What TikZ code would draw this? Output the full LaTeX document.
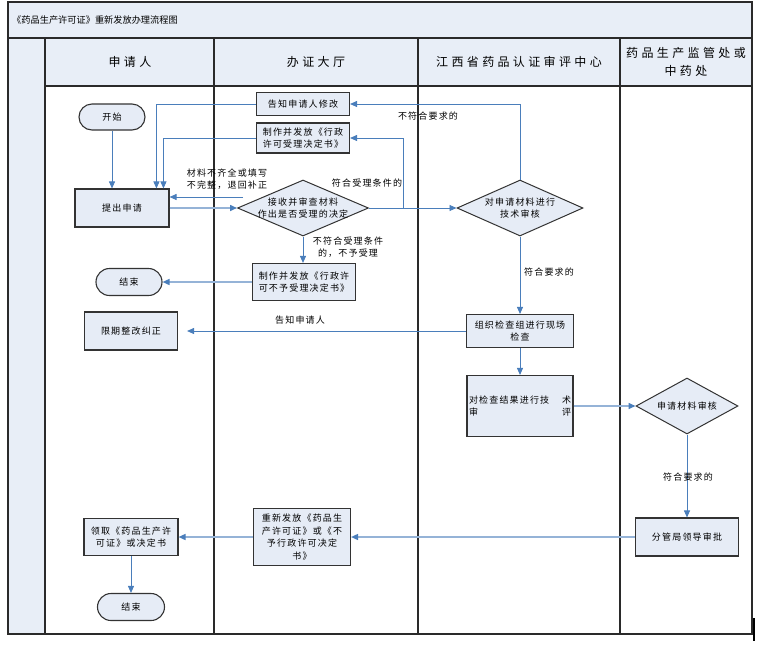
\documentclass[tikz,border=0pt]{standalone}
\usepackage{fontspec}
\setmainfont{Noto Sans CJK SC}
\newfontfamily\bxfont[LetterSpace=13]{Noto Sans CJK SC}
\newfontfamily\hdfont[LetterSpace=28]{Noto Sans CJK SC}
\newfontfamily\ttlfont{Noto Sans CJK SC}
\usetikzlibrary{arrows.meta,shapes.geometric,shapes.misc}
\definecolor{lanefill}{HTML}{E8EEF7}
\definecolor{boxfill}{HTML}{E6ECF6}
\definecolor{edgeD}{HTML}{4A7EBB}
\definecolor{edgeL}{HTML}{95B3D7}
\definecolor{framec}{HTML}{2A2A2A}
\begin{document}
\begin{tikzpicture}[x=1pt,y=-1pt,
  bx/.style={draw=black!80, line width=1.1pt, fill=boxfill, inner sep=1pt, align=center, font={\bxfont\fontsize{9}{12.5}\selectfont}},
  stad/.style={bx, rounded rectangle},
  dia/.style={draw=black!80, line width=1pt, fill=boxfill, diamond, inner sep=0pt},
  txt/.style={inner sep=0pt, align=center, font={\bxfont\fontsize{9}{12.5}\selectfont}},
  hdr/.style={inner sep=0pt, align=center, font={\hdfont\fontsize{12}{18}\selectfont}},
  dk/.style={draw=edgeD, line width=0.9pt, -{Triangle[length=7pt,width=6pt,fill=edgeD,color=edgeD]}},
  lt/.style={draw=edgeL, line width=1.5pt, -{Triangle[length=7pt,width=6pt,fill=edgeD,color=edgeD]}},
  lane/.style={draw=framec, line width=1.1pt}
]
\useasboundingbox (0,0) rectangle (766,662);
% frame
\fill[lanefill] (8,2) rectangle (752,38);
\fill[lanefill] (45,38) rectangle (752,86);
\fill[lanefill] (8,38) rectangle (45,634);
\draw[lane] (8,2) rectangle (752,634);
\draw[lane] (8,38) -- (752,38);
\draw[lane] (45,86) -- (752,86);
\foreach \xx in {45,214,418,620} \draw[lane] (\xx,38) -- (\xx,634);
\draw[black, line width=2pt] (754,618) -- (754,641);
% titles
\node[inner sep=0pt, anchor=west, font={\ttlfont\fontsize{9.2}{12}\selectfont}] (title) at (12,20) {《药品生产许可证》重新发放办理流程图};
\node[hdr] (h1) at (130,62) {申请人};
\node[hdr] (h2) at (316,62) {办证大厅};
\node[hdr] (h3) at (519,62) {江西省药品认证审评中心};
\node[hdr] (h4) at (686,62) {药品生产监管处或\\中药处};
% applicant lane
\node[stad, minimum width=68pt, minimum height=26pt] (start) at (112,117) {开始};
\node[bx, minimum width=94pt, minimum height=38pt] (apply) at (122,208) {提出申请};
\node[stad, minimum width=68pt, minimum height=27pt] (end1) at (129,282) {结束};
\node[bx, minimum width=93pt, minimum height=38pt] (rectify) at (131,331) {限期整改纠正};
\node[bx, minimum width=94pt, minimum height=37pt] (receive) at (131,537) {领取《药品生产许\\可证》或决定书};
\node[stad, minimum width=69pt, minimum height=27pt] (end2) at (131,607) {结束};
% hall lane
\node[bx, minimum width=93pt, minimum height=23pt] (notify) at (303,104) {告知申请人修改};
\node[bx, minimum width=93pt, minimum height=30pt] (accept) at (303,138) {制作并发放《行政\\许可受理决定书》};
\node[dia, minimum width=131pt, minimum height=56pt] (check) at (303,208) {};
\node[txt] (checkT) at (check.center) {接收并审查材料\\作出是否受理的决定};
\node[bx, minimum width=103pt, minimum height=37pt] (reject) at (304,282) {制作并发放《行政许\\可不予受理决定书》};
\node[bx, minimum width=97pt, minimum height=57pt] (reissue) at (302,537) {重新发放《药品生\\产许可证》或《不\\予行政许可决定\\书》};
% center lane
\node[dia, minimum width=126pt, minimum height=56pt] (tech) at (520,208) {};
\node[txt] (techT) at (tech.center) {对申请材料进行\\技术审核};
\node[bx, minimum width=107pt, minimum height=33pt] (inspect) at (520,331) {组织检查组进行现场\\检查};
\node[bx, minimum width=106pt, minimum height=61pt, text width=102pt, align=left] (review) at (520,406) {对检查结果进行技\hfill 术\\审\hfill 评};
% right lane
\node[dia, minimum width=102pt, minimum height=56pt] (audit) at (687,406) {};
\node[txt] (auditT) at (audit.center) {申请材料审核};
\node[bx, minimum width=103pt, minimum height=38pt] (approve) at (687,537) {分管局领导审批};
% helper coordinates
\coordinate (inc) at (243,197);
\coordinate (br) at (403,208);
% connectors
\draw[dk] (start.south) -- (start.south |- apply.north);
\draw[dk] (notify.west) -| ([xshift=82pt]apply.north west);
\draw[dk] (accept.west) -| ([xshift=89pt]apply.north west);
\draw[dk] (inc) -- (inc -| apply.east);
\draw[lt] (apply.east) -- (check.west);
\draw[dk] (check.east) -- (tech.west);
\draw[dk] (br) |- (accept.east);
\draw[dk] (check.south) -- (check.south |- reject.north);
\draw[lt] (reject.west) -- (end1.east);
\draw[dk] (tech.north) |- (notify.east);
\draw[dk] (tech.south) -- (inspect.north);
\draw[dk] (inspect.west) -- ([xshift=9pt]rectify.east);
\draw[dk] (inspect.south) -- (review.north);
\draw[lt] (review.east) -- (audit.west);
\draw[dk] (audit.south) -- (approve.north);
\draw[lt] (approve.west) -- (reissue.east);
\draw[lt] (reissue.west) -- (receive.east);
\draw[dk] (receive.south) -- (end2.north);
% labels
\node[txt, align=left] (lInc) at (227,179) {材料不齐全或填写\\不完整，退回补正};
\node[txt] (lAcc) at (367,183) {符合受理条件的};
\node[txt] (lRej) at (348,247) {不符合受理条件\\的，不予受理};
\node[txt] (lNo) at (428,116) {不符合要求的};
\node[txt] (lOk1) at (549,272) {符合要求的};
\node[txt] (lTell) at (300,320) {告知申请人};
\node[txt] (lOk2) at (688,477) {符合要求的};
\end{tikzpicture}
\end{document}
